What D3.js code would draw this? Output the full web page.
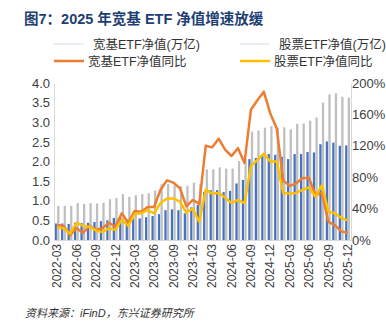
<!DOCTYPE html>
<html>
<head>
<meta charset="utf-8">
<script src="https://cdn.jsdelivr.net/npm/d3@7"></script>
<style>
  body { margin: 0; background: #fff; }
  text { font-family: "Liberation Sans", "Noto Sans CJK SC", sans-serif; }
</style>
</head>
<body>
<div id="chart-area"></div>
<script>
// months 2022-03 .. 2025-12
var months = [];
for (var yr = 2022; yr <= 2025; yr++) {
    for (var m = (yr == 2022 ? 3 : 1); m <= 12; m++) {
        months.push(yr + "-" + (m < 10 ? "0" + m : m));
    }
}

// 宽基ETF净值(万亿)
var kuanjiNav = [0.42, 0.42, 0.41, 0.44, 0.43, 0.44, 0.46, 0.48, 0.50, 0.56,
    0.57, 0.52, 0.55, 0.55, 0.58, 0.61, 0.66, 0.76, 0.78, 0.76,
    0.68, 0.83, 0.89, 1.23, 1.27, 1.27, 1.22, 1.25, 1.44, 1.53,
    2.06, 2.09, 2.17, 2.19, 2.17, 2.12, 2.06, 2.19, 2.19, 2.24,
    2.23, 2.44, 2.51, 2.48, 2.40, 2.41];

// 股票ETF净值(万亿)
var gupiaoNav = [0.87, 0.87, 0.87, 0.94, 0.92, 0.94, 0.93, 0.95, 1.04, 1.07,
    1.17, 1.10, 1.14, 1.17, 1.19, 1.26, 1.42, 1.43, 1.38, 1.37,
    1.38, 1.46, 1.43, 1.80, 1.80, 1.85, 1.82, 1.82, 2.01, 2.07,
    2.76, 2.79, 2.86, 2.90, 2.86, 2.87, 2.82, 2.96, 2.97, 3.04,
    3.12, 3.50, 3.71, 3.74, 3.65, 3.63];

// 宽基ETF净值同比 (%)
var kuanjiYoy = [19, 18, 6, 15, 9, 18, 13, 15, 22, 17,
    34, 22, 37, 36, 42, 42, 64, 76, 73, 66,
    43, 51, 46, 120, 118, 129, 115, 107, 117, 98,
    166, 178, 189, 161, 142, 76, 69, 72, 79, 79,
    57, 60, 23, 19, 11, 9];

// 股票ETF净值同比 (%)
var gupiaoYoy = [16, 15, 8, 22, 18, 17, 12, 10, 15, 13,
    26, 18, 33, 34, 38, 34, 47, 53, 53, 49,
    35, 40, 23, 64, 59, 60, 54, 47, 51, 47,
    94, 102, 110, 100, 100, 60, 59, 60, 64, 67,
    55, 70, 36, 34, 28, 25];

var leftTicks = [0, 0.5, 1, 1.5, 2, 2.5, 3, 3.5, 4];
var rightTicks = [0, 40, 80, 120, 160, 200];
var xTicks = months.filter(function(d, i) { return i % 3 == 0; });

var W = 386, H = 322;
var plot = { left: 54, right: 351, top: 83, bottom: 240 };

var svg = d3.select("#chart-area")
    .append("svg")
        .attr("width", W)
        .attr("height", H);

// Title
svg.append("text")
    .attr("x", 24)
    .attr("y", 24)
    .attr("font-size", "14.5px")
    .attr("font-weight", "bold")
    .attr("fill", "#1f3f74")
    .text("图7：2025 年宽基 ETF 净值增速放缓");

// Scales
var x = d3.scaleBand()
    .domain(months)
    .range([plot.left, plot.right]);

var x1 = d3.scaleBand()
    .domain(["kuanji", "gupiao"])
    .range([0.6, x.bandwidth() - 1.0])
    .paddingInner(0.12);

var y = d3.scaleLinear()
    .domain([0, 4])
    .range([plot.bottom, plot.top]);

var y2 = d3.scaleLinear()
    .domain([0, 200])
    .range([plot.bottom, plot.top]);

// Bars
var g = svg.append("g");

g.selectAll("rect.kj")
    .data(kuanjiNav)
    .enter()
    .append("rect")
        .attr("class", "kj")
        .attr("x", function(d, i) { return x(months[i]) + x1("kuanji"); })
        .attr("width", x1.bandwidth())
        .attr("y", function(d) { return y(d); })
        .attr("height", function(d) { return plot.bottom - y(d); })
        .attr("fill", "#4472c4");

g.selectAll("rect.gp")
    .data(gupiaoNav)
    .enter()
    .append("rect")
        .attr("class", "gp")
        .attr("x", function(d, i) { return x(months[i]) + x1("gupiao"); })
        .attr("width", x1.bandwidth())
        .attr("y", function(d) { return y(d); })
        .attr("height", function(d) { return plot.bottom - y(d); })
        .attr("fill", "#bfbfbf");

// Axes
var xAxis = svg.append("g")
    .attr("transform", "translate(0," + plot.bottom + ")")
    .call(d3.axisBottom(x).tickValues(xTicks).tickSize(0).tickPadding(0));

xAxis.selectAll("text")
    .attr("font-size", "12px")
    .attr("fill", "#404040")
    .attr("text-anchor", "end")
    .attr("dy", "0.35em")
    .attr("transform", function() { return "translate(0,4) rotate(-90)"; })
    .attr("x", 0)
    .attr("y", 0);

var yAxis = svg.append("g")
    .attr("transform", "translate(" + plot.left + ",0)")
    .call(d3.axisLeft(y).tickValues(leftTicks).tickSize(0).tickPadding(4)
        .tickFormat(d3.format(".1f")));

yAxis.selectAll("text")
    .attr("font-size", "13px")
    .attr("fill", "#404040");

var yAxis2 = svg.append("g")
    .attr("transform", "translate(" + plot.right + ",0)")
    .call(d3.axisRight(y2).tickValues(rightTicks).tickSize(0).tickPadding(1)
        .tickFormat(function(d) { return d + "%"; }));

yAxis2.selectAll("text")
    .attr("font-size", "13px")
    .attr("fill", "#404040");

svg.selectAll(".domain")
    .attr("stroke", "#d9d9d9")
    .attr("stroke-width", 1);

// Lines
var lineKj = d3.line()
    .x(function(d, i) { return x(months[i]) + x.bandwidth() / 2; })
    .y(function(d) { return y2(d); });

svg.append("path")
    .datum(kuanjiYoy)
    .attr("d", lineKj)
    .attr("fill", "none")
    .attr("stroke", "#ed7d31")
    .attr("stroke-width", 2.5)
    .attr("stroke-linejoin", "round");

svg.append("path")
    .datum(gupiaoYoy)
    .attr("d", lineKj)
    .attr("fill", "none")
    .attr("stroke", "#ffc000")
    .attr("stroke-width", 2.5)
    .attr("stroke-linejoin", "round");

// Legend
var legend = [
    { label: "宽基ETF净值(万亿)", color: "#d6dce4", w: 1, x: 54, y: 44, tx: 93 },
    { label: "股票ETF净值(万亿)", color: "#d6dce4", w: 1, x: 240, y: 44, tx: 279 },
    { label: "宽基ETF净值同比", color: "#ed7d31", w: 2.5, x: 54, y: 61, tx: 88 },
    { label: "股票ETF净值同比", color: "#ffc000", w: 2.5, x: 240, y: 61, tx: 274 }
];

legend.forEach(function(d) {
    svg.append("line")
        .attr("x1", d.x)
        .attr("x2", d.x + 30)
        .attr("y1", d.y)
        .attr("y2", d.y)
        .attr("stroke", d.color)
        .attr("stroke-width", d.w);
    svg.append("text")
        .attr("x", d.tx)
        .attr("y", d.y + 4.5)
        .attr("font-size", "12.5px")
        .attr("fill", "#333")
        .text(d.label);
});

// Source
svg.append("text")
    .attr("x", 25)
    .attr("y", 317)
    .attr("font-size", "11px")
    .attr("font-style", "italic")
    .attr("fill", "#333")
    .text("资料来源：iFinD，东兴证券研究所");
</script>
</body>
</html>
